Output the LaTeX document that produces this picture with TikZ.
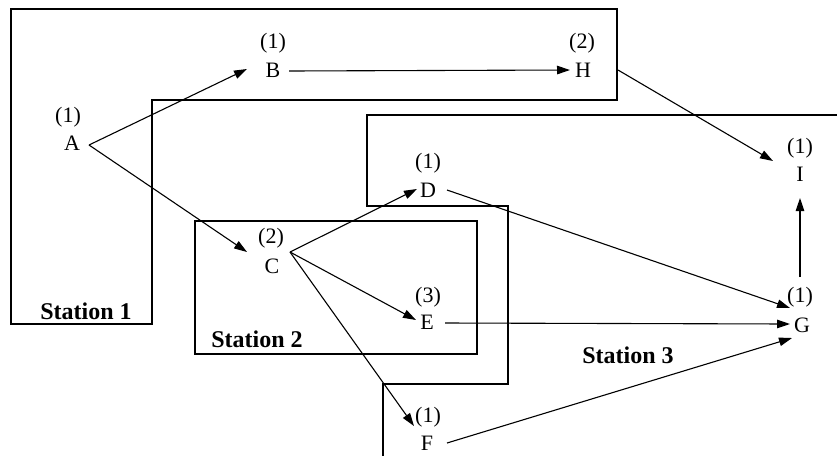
\documentclass[tikz,border=0pt]{standalone}
\usepackage{fontspec}
\setmainfont{Liberation Serif}
\usetikzlibrary{arrows.meta}
\tikzset{
  lbl/.style={inner sep=0pt, font=\fontsize{22}{22}\selectfont},
  stn/.style={inner sep=0pt, font=\fontsize{24}{24}\selectfont\bfseries},
  box/.style={draw, line width=1.3pt},
  arr/.style={draw, line width=1.1pt, -{Triangle[length=13pt,width=8.5pt]}}
}
\begin{document}
\begin{tikzpicture}[x=1pt,y=-1pt]
\useasboundingbox[fill=white] (0,0) rectangle (837,456);
% station outlines
\draw[box] (11,9) -- (617,9) -- (617,100) -- (152,100) -- (152,324) -- (11,324) -- cycle;
\draw[box] (195,221) rectangle (477,354);
\draw[box] (837,115) -- (367,115) -- (367,206) -- (508,206) -- (508,384) -- (383,384) -- (383,456);
% station labels
\node[stn] (s1) at (86,311) {Station 1};
\node[stn] (s2) at (257,339) {Station 2};
\node[stn] (s3) at (628,355) {Station 3};
% task nodes
\node[lbl] (A1) at (68,117) {(1)};  \node[lbl] (A) at (72,143) {A};
\node[lbl] (B1) at (273,43) {(1)};  \node[lbl] (B) at (273,70) {B};
\node[lbl] (H1) at (582,43) {(2)};  \node[lbl] (H) at (583,70) {H};
\node[lbl] (I1) at (800,148) {(1)}; \node[lbl] (I) at (800,174) {I};
\node[lbl] (D1) at (428,163) {(1)}; \node[lbl] (D) at (428,190) {D};
\node[lbl] (C1) at (271,238) {(2)}; \node[lbl] (C) at (272,266) {C};
\node[lbl] (E1) at (428,297) {(3)}; \node[lbl] (E) at (427,322) {E};
\node[lbl] (F1) at (428,417) {(1)}; \node[lbl] (F) at (427,443) {F};
\node[lbl] (G1) at (800,297) {(1)}; \node[lbl] (G) at (802,325) {G};
% connectors
\draw[arr] ([shift={(17,2)}]A.center) -- ([shift={(-26,-1)}]B.center);
\draw[arr] ([shift={(16,1)}]B.center) -- ([shift={(-13,0)}]H.center);
\draw[arr] ([shift={(17,2)}]A.center) -- ([shift={(-25,-14)}]C.center);
\draw[arr] ([shift={(18,-14)}]C.center) -- ([shift={(-11,-1)}]D.center);
\draw[arr] ([shift={(18,-14)}]C.center) -- ([shift={(-11,-2)}]E.center);
\draw[arr] ([shift={(18,-14)}]C.center) -- ([shift={(-13,-17)}]F.center);
\draw[arr] ([shift={(35,0)}]H.center) -- ([shift={(-27,-13)}]I.center);
\draw[arr] ([shift={(19,0)}]D.center) -- ([shift={(-12,-17)}]G.center);
\draw[arr] ([shift={(18,1)}]E.center) -- ([shift={(-12,-1)}]G.center);
\draw[arr] ([shift={(20,0)}]F.center) -- ([shift={(-10,13)}]G.center);
\draw[arr] ([shift={(0,-20)}]G1.center) -- ([shift={(0,24)}]I.center);
\end{tikzpicture}
\end{document}
